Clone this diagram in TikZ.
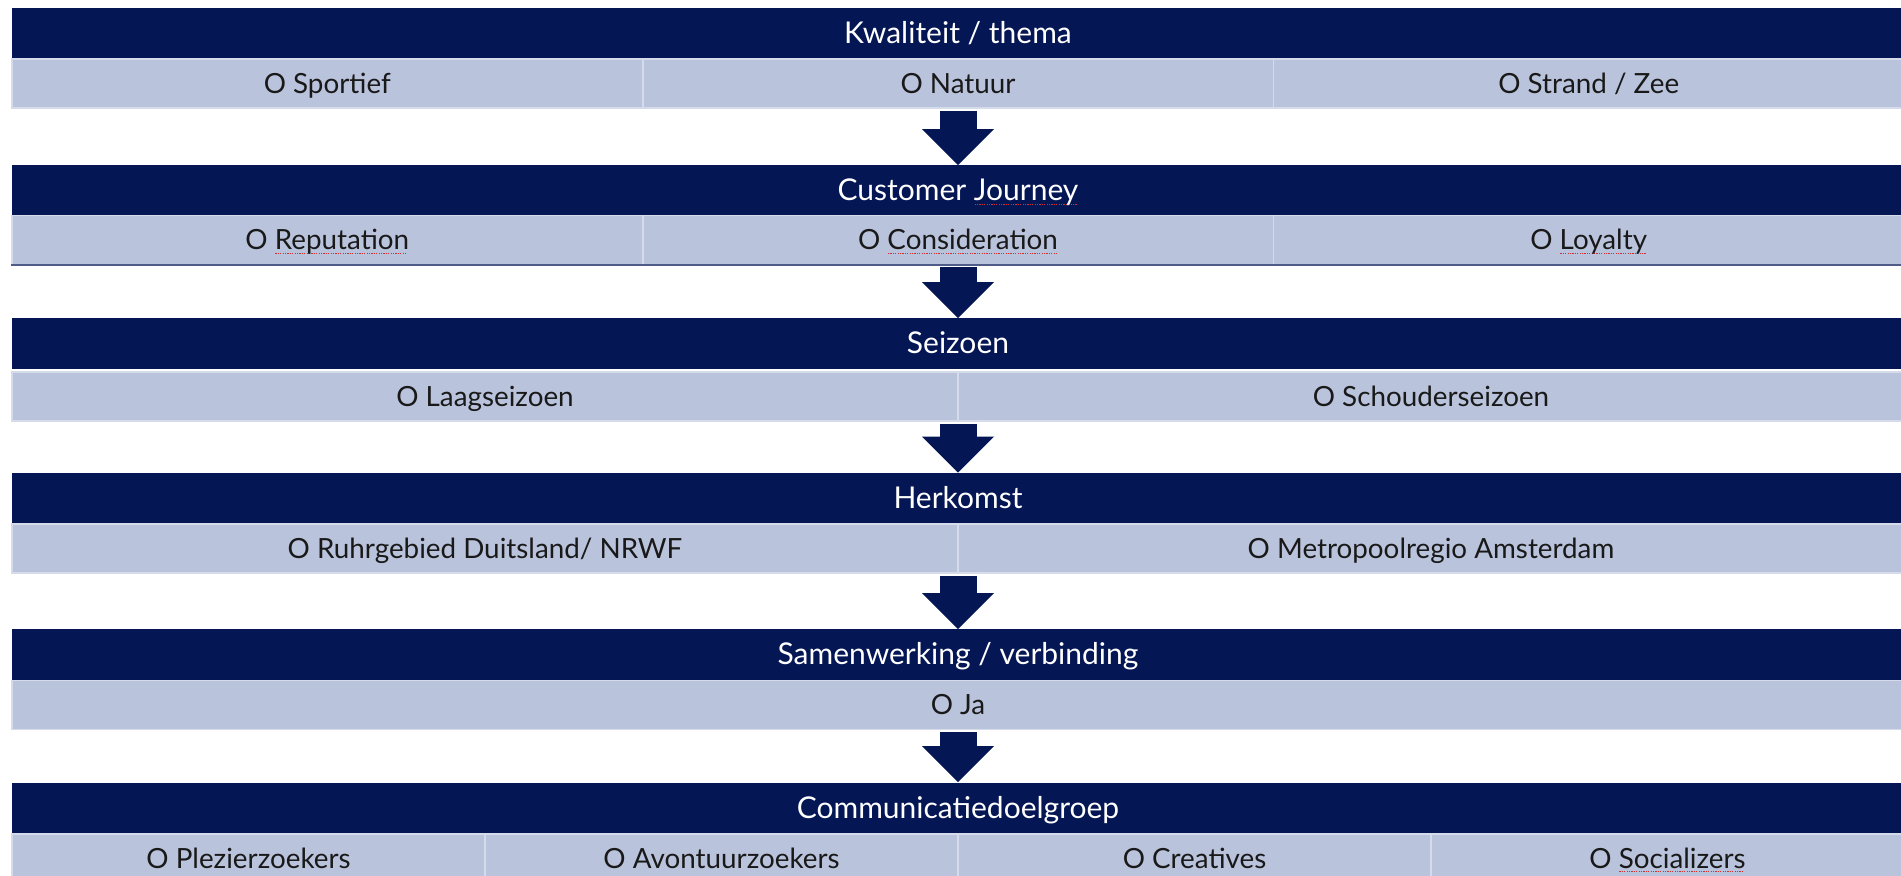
\documentclass[tikz,border=0pt]{standalone}
\usepackage{fontspec}
\setmainfont{Lato}
\usepackage{tikz}
\usetikzlibrary{arrows.meta}
\usepackage{xcolor}

\definecolor{navy}{RGB}{4,22,84}
\definecolor{lightrow}{RGB}{186,195,220}
\definecolor{gridline}{RGB}{214,219,236}
\definecolor{spellred}{RGB}{215,45,45}

% red dotted spell-check underline
\newlength\spellwd
\newcommand\spell[1]{\settowidth\spellwd{#1}\rlap{\raisebox{-2pt}{\color{spellred}\leaders\hbox to 1.2pt{\hss\rule{0.6pt}{0.5pt}\hss}\hskip\spellwd}}#1}

\begin{document}
\begin{tikzpicture}[
    x=0.5pt, y=-0.5pt,
    head/.style={rectangle, fill=navy, text=white, minimum width=946pt, minimum height=25.5pt,
        inner sep=0pt, text height=10pt, text depth=0pt, font=\fontsize{15}{17}\selectfont},
    cell/.style={rectangle, fill=lightrow, draw=gridline, line width=0.8pt, text=black!90,
        minimum height=24.5pt, inner sep=0pt, text height=9.8pt, text depth=0pt,
        font=\fontsize{13.9}{16}\selectfont},
    cellone/.style={cell, minimum width=946pt},
    celltwo/.style={cell, minimum width=473pt},
    cellthree/.style={cell, minimum width=315.3pt},
    cellfour/.style={cell, minimum width=236.5pt},
    flow/.style={navy, line width=18.5pt, shorten <=1pt,
        -{Triangle[width=36pt, length=18pt, line width=0pt]}}
]
    \useasboundingbox (0,0) rectangle (1901,876);

    % Kwaliteit / thema
    \node[head] (thema) at (958,33.5) {Kwaliteit / thema};
    \node[cellthree] (sport) at (327.3,83.5) {O Sportief};
    \node[cellthree] (natuur) at (958,83.5) {O Natuur};
    \node[cellthree] (strand) at (1588.7,83.5) {O Strand / Zee};

    % Customer journey
    \node[head] (journey) at (958,191) {Customer \spell{Journey}};
    \node[cellthree] (reput) at (327.3,240) {O \spell{Reputation}};
    \node[cellthree] (consid) at (958,240) {O \spell{Consideration}};
    \node[cellthree] (loyal) at (1588.7,240) {O \spell{Loyalty}};
    \draw[navy!70, line width=1pt] (reput.south west) -- (loyal.south east);

    % Seizoen
    \node[head] (seizoen) at (958,344) {Seizoen};
    \node[celltwo] (laag) at (485,396.5) {O Laagseizoen};
    \node[celltwo] (schouder) at (1431,396.5) {O Schouderseizoen};

    % Herkomst
    \node[head] (herkomst) at (958,498.5) {Herkomst};
    \node[celltwo] (ruhr) at (485,548.5) {O Ruhrgebied Duitsland/ NRWF};
    \node[celltwo] (metro) at (1431,548.5) {O Metropoolregio Amsterdam};

    % Samenwerking
    \node[head] (samen) at (958,655) {Samenwerking / verbinding};
    \node[cellone] (ja) at (958,705) {O Ja};

    % Communicatiedoelgroep
    \node[head] (doelgroep) at (958,808) {Communicatiedoelgroep};
    \node[cellfour] (plezier) at (248.5,858.5) {O Plezierzoekers};
    \node[cellfour] (avontuur) at (721.5,858.5) {O Avontuurzoekers};
    \node[cellfour] (creatives) at (1194.5,858.5) {O Creatives};
    \node[cellfour] (social) at (1667.5,858.5) {O \spell{Socializers}};

    % Arrows
    \draw[flow] (natuur.south) -- (journey.north);
    \draw[flow] (consid.south) -- (seizoen.north);
    \draw[flow] (seizoen.south |- laag.south) -- (herkomst.north);
    \draw[flow] (herkomst.south |- ruhr.south) -- (samen.north);
    \draw[flow] (ja.south) -- (doelgroep.north);
\end{tikzpicture}
\end{document}
